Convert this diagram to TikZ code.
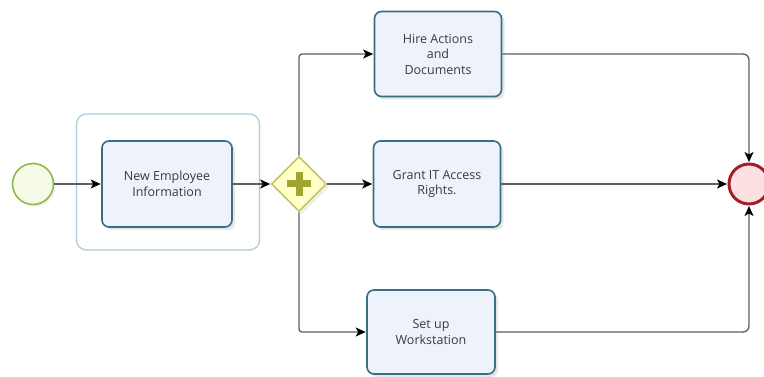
\documentclass[tikz,border=0pt]{standalone}
\usepackage{fontspec}
\setmainfont{Open Sans}
\usetikzlibrary{arrows.meta,shadows,shapes.geometric}
\definecolor{taskline}{HTML}{3A6E84}
\definecolor{taskfill}{HTML}{EEF2FB}
\definecolor{grpline}{HTML}{A9CCD8}
\definecolor{gwline}{HTML}{C4C46A}
\definecolor{gwfill}{HTML}{FFFFC8}
\definecolor{gwplus}{HTML}{A3A332}
\definecolor{startline}{HTML}{8DBB4A}
\definecolor{startfill}{HTML}{F6FBE8}
\definecolor{endline}{HTML}{A0202A}
\definecolor{endfill}{HTML}{FBE0E2}
\definecolor{flow}{HTML}{5E5E5E}
\definecolor{txt}{HTML}{3A3A3A}
\tikzset{
  task/.style={draw=taskline, line width=1.6pt, fill=taskfill, rounded corners=7pt,
    align=center, text=txt, font=\fontsize{12.5}{15.5}\selectfont,
    drop shadow={shadow xshift=3pt, shadow yshift=-3pt, fill=black!18}},
  flowarr/.style={draw=flow, line width=1.3pt, -{Stealth[length=10pt,width=9pt,inset=2.5pt,black]}, shorten >=0.5pt},
}
\begin{document}
\begin{tikzpicture}[x=1pt,y=-1pt]
\useasboundingbox (0,0) rectangle (764,377);
\fill[white] (0,0) rectangle (764,377);
% group
\node[draw=grpline, line width=1.2pt, fill=white, rounded corners=10pt,
  minimum width=183pt, minimum height=136pt] (grp) at (168,182) {};
% start
\node[circle, draw=startline, line width=1.6pt, fill=startfill, minimum size=41pt, inner sep=0pt,
  drop shadow={shadow xshift=2pt, shadow yshift=-2pt, fill=black!12}] (start) at (33,184) {};
% tasks
\node[task, minimum width=130pt, minimum height=86pt] (t1) at (167,184) {New Employee\\Information};
\node[task, minimum width=127pt, minimum height=85pt] (t2) at (438,54) {Hire Actions\\and\\Documents};
\node[task, minimum width=127pt, minimum height=86pt] (t3) at (437,184) {Grant IT Access\\Rights.};
\node[task, minimum width=128pt, minimum height=84pt] (t4) at (431,332) {Set up\\Workstation};
% gateway
\node[diamond, draw=gwline, line width=1.6pt, fill=gwfill, minimum width=55pt, minimum height=55pt,
  inner sep=0pt, drop shadow={shadow xshift=3pt, shadow yshift=-3pt, fill=black!12}] (gw) at (299,184) {};
\fill[gwplus] (295.5,172) rectangle (302.5,196);
\fill[gwplus] (287,180.5) rectangle (311,187.5);
% end
\node[circle, draw=endline, line width=3pt, fill=endfill, minimum size=40pt, inner sep=0pt] (end) at (749,184) {};
% flows
\draw[flowarr] (start) -- (t1);
\draw[flowarr] (t1) -- (gw);
\draw[flowarr] (gw) -- (t3);
\draw[flowarr, rounded corners=3pt] (gw.north) |- (t2.west);
\draw[flowarr, rounded corners=3pt] (gw.south) |- (t4.west);
\draw[flowarr, rounded corners=6pt] (t2.east) -| (end.north);
\draw[flowarr] (t3) -- (end);
\draw[flowarr, rounded corners=6pt] (t4.east) -| (end.south);
\end{tikzpicture}
\end{document}
